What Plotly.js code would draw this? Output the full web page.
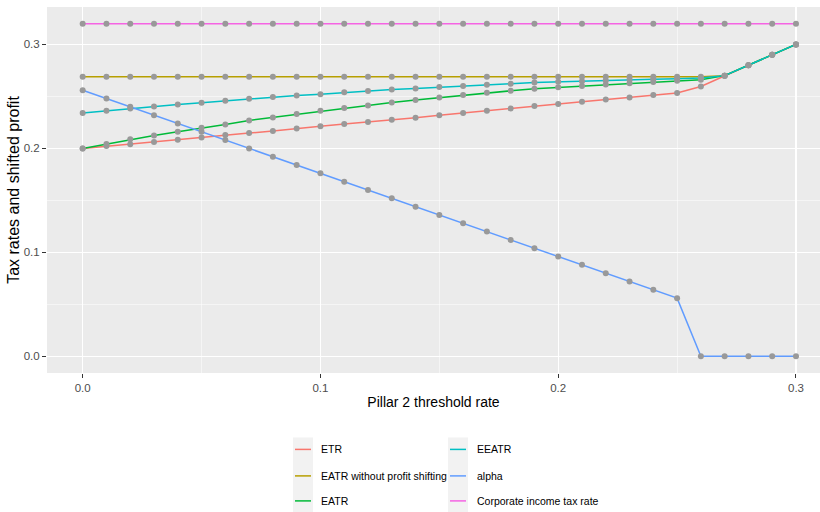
<!DOCTYPE html>
<html>
<head>
<meta charset="utf-8">
<script src="https://cdn.plot.ly/plotly-3.0.1.min.js"></script>
<style>html,body{margin:0;padding:0;background:#fff;} #chart{width:820px;height:512px;}</style>
</head>
<body>
<div id="chart"></div>
<script>
// ---- data ----
const threshold = [0,0.01,0.02,0.03,0.04,0.05,0.06,0.07,0.08,0.09,0.10,0.11,0.12,0.13,0.14,0.15,0.16,0.17,0.18,0.19,0.20,0.21,0.22,0.23,0.24,0.25,0.26,0.27,0.28,0.29,0.30];
const seriesNames = ["ETR","EATR without profit shifting","EATR","EEATR","alpha","Corporate income tax rate"];
const seriesColors = ["#F8766D","#B79F00","#00BA38","#00BFC4","#619CFF","#F564E3"];
const etr = [0.2000,0.2022,0.2040,0.2061,0.2083,0.2106,0.2128,0.2147,0.2167,0.2192,0.2212,0.2234,0.2253,0.2276,0.2295,0.2320,0.2340,0.2362,0.2385,0.2407,0.2426,0.2449,0.2471,0.2490,0.2513,0.2532,0.2596,0.2700,0.2800,0.2900,0.3000];
const eatrNoShift = [0.2690,0.2690,0.2690,0.2690,0.2690,0.2690,0.2690,0.2690,0.2690,0.2690,0.2690,0.2690,0.2690,0.2690,0.2690,0.2690,0.2690,0.2690,0.2690,0.2690,0.2690,0.2690,0.2690,0.2690,0.2690,0.2690,0.2690,0.2700,0.2800,0.2900,0.3000];
const eatr = [0.2000,0.2042,0.2087,0.2125,0.2160,0.2199,0.2231,0.2269,0.2298,0.2330,0.2362,0.2388,0.2413,0.2442,0.2465,0.2489,0.2513,0.2535,0.2554,0.2574,0.2587,0.2600,0.2614,0.2626,0.2638,0.2651,0.2660,0.2700,0.2800,0.2900,0.3000];
const eeatr = [0.2340,0.2362,0.2385,0.2404,0.2423,0.2439,0.2458,0.2477,0.2494,0.2510,0.2522,0.2539,0.2551,0.2566,0.2577,0.2590,0.2600,0.2612,0.2622,0.2633,0.2641,0.2647,0.2654,0.2660,0.2666,0.2670,0.2676,0.2700,0.2800,0.2900,0.3000];
const alpha = [0.256,0.248,0.240,0.232,0.224,0.216,0.208,0.200,0.192,0.184,0.176,0.168,0.160,0.152,0.144,0.136,0.128,0.120,0.112,0.104,0.096,0.088,0.080,0.072,0.064,0.056,0,0,0,0,0];
const cit = [0.32,0.32,0.32,0.32,0.32,0.32,0.32,0.32,0.32,0.32,0.32,0.32,0.32,0.32,0.32,0.32,0.32,0.32,0.32,0.32,0.32,0.32,0.32,0.32,0.32,0.32,0.32,0.32,0.32,0.32,0.32];
const xTickVals = [0,0.1,0.2,0.3];
const yTickVals = [0,0.1,0.2,0.3];

const seriesValues = [etr, eatrNoShift, eatr, eeatr, alpha, cit];

// ---- geometry ----
const W = 820, H = 512;
const L = 47, R = 820, T = 6.6, B = 372.6;
const px = x => (x - L) / (R - L);
const py = y => (B - y) / (B - T);

const SANS = "'Liberation Sans', Arial, sans-serif";

const traces = [];
seriesValues.forEach((vals, i) => {
  traces.push({type:'scatter', mode:'lines', x:threshold, y:vals, name:seriesNames[i],
    line:{color:seriesColors[i], width:1.5}, showlegend:false, hoverinfo:'skip'});
});
seriesValues.forEach((vals, i) => {
  traces.push({type:'scatter', mode:'markers', x:threshold, y:vals, name:seriesNames[i],
    marker:{color:'#999999', size:6, line:{width:0}}, showlegend:false, hoverinfo:'skip'});
});

// ---- manual legend (ggplot-style, 2 columns x 3 rows) ----
const shapes = [];
const annotations = [];
const colX = [{rect:[293,313], line:[295,311], text:319},{rect:[448,468], line:[450,466], text:475}];
const rowY = [449, 475.5, 500.5];
colX.forEach(c => {
  shapes.push({type:'rect', xref:'paper', yref:'paper', x0:px(c.rect[0]), x1:px(c.rect[1]), y0:py(512), y1:py(437),
    fillcolor:'#F2F2F2', line:{width:0}, layer:'above'});
});
seriesNames.forEach((nm, i) => {
  const c = colX[Math.floor(i/3)], y = rowY[i%3];
  shapes.push({type:'line', xref:'paper', yref:'paper', x0:px(c.line[0]), x1:px(c.line[1]), y0:py(y), y1:py(y),
    line:{color:seriesColors[i], width:1.5}, layer:'above'});
  annotations.push({xref:'paper', yref:'paper', x:px(c.text), y:py(y), xanchor:'left', yanchor:'middle',
    text:nm, showarrow:false, font:{family:SANS, size:10.5, color:'#000000'}});
});

const axisCommon = {
  showline:false, zeroline:false, ticks:'outside', ticklen:4, tickwidth:1, tickcolor:'#333333',
  gridcolor:'#FFFFFF', gridwidth:1.1, tickformat:'.1f',
  tickfont:{family:SANS, size:11.5, color:'#4D4D4D'},
  minor:{showgrid:true, gridcolor:'#FFFFFF', gridwidth:0.5, tick0:0.05, dtick:0.1, ticks:''}
};

const layout = {
  width:W, height:H,
  margin:{l:L, r:W-R, t:T, b:H-B, pad:0},
  paper_bgcolor:'#FFFFFF', plot_bgcolor:'#EBEBEB',
  showlegend:false,
  xaxis:Object.assign({}, axisCommon, {range:[-0.015, 0.3101], tickvals:xTickVals,
    title:{text:'Pillar 2 threshold rate', font:{family:SANS, size:14, color:'#000000'}, standoff:4}}),
  yaxis:Object.assign({}, axisCommon, {range:[-0.016, 0.336], tickvals:yTickVals,
    title:{text:'Tax rates and shifted profit', font:{family:SANS, size:16, color:'#000000'}, standoff:0}}),
  shapes:shapes, annotations:annotations
};

Plotly.newPlot('chart', traces, layout, {staticPlot:true, displayModeBar:false});
</script>
</body>
</html>
